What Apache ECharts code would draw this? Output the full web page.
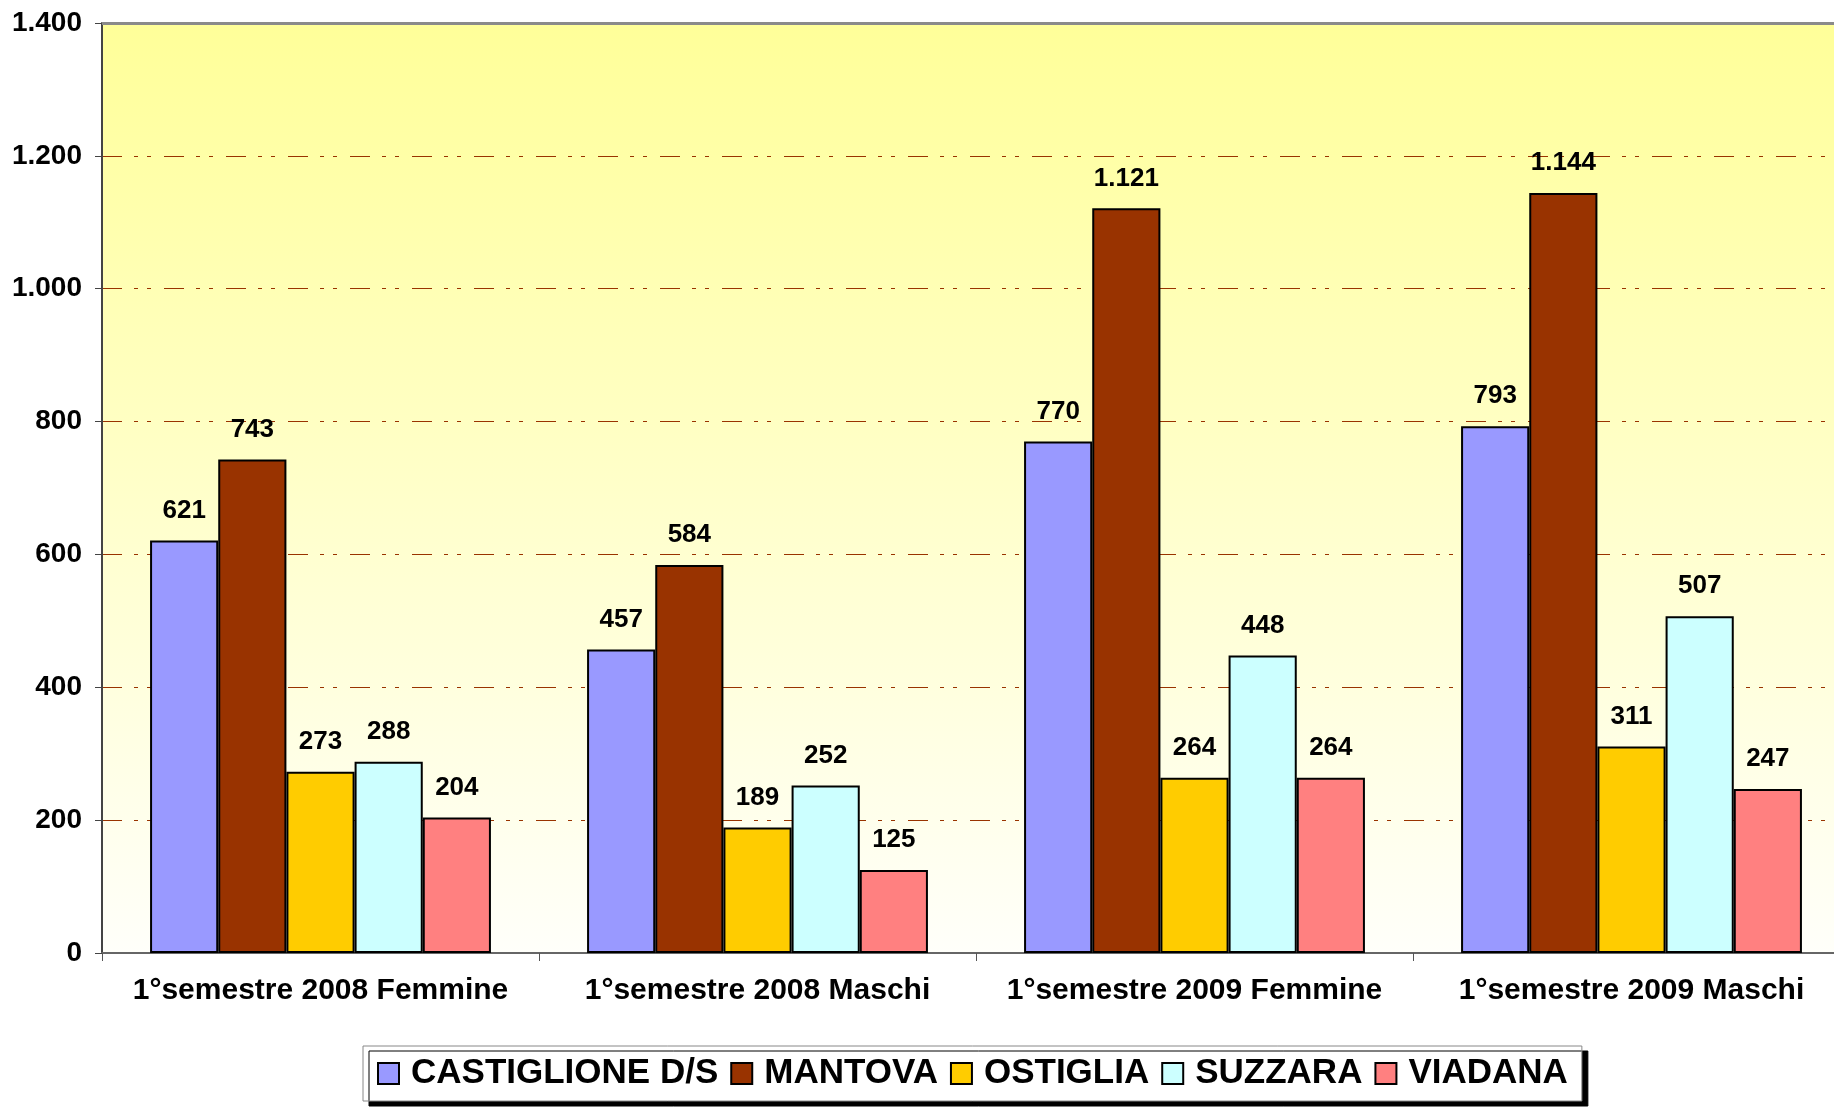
<!DOCTYPE html>
<html>
<head>
<meta charset="utf-8">
<title>Semestri</title>
<script src="https://cdn.jsdelivr.net/npm/echarts@6/dist/echarts.min.js"></script>
<style>
  html, body { margin: 0; padding: 0; background: #fff; }
  #chart { width: 1834px; height: 1107px; }
</style>
</head>
<body>
<div id="chart"></div>
<script>
var categories = ['1°semestre 2008 Femmine', '1°semestre 2008 Maschi', '1°semestre 2009 Femmine', '1°semestre 2009 Maschi'];
var seriesNames = ['CASTIGLIONE D/S', 'MANTOVA', 'OSTIGLIA', 'SUZZARA', 'VIADANA'];
var castiglione = [621, 457, 770, 793];
var mantova = [743, 584, 1121, 1144];
var ostiglia = [273, 189, 264, 311];
var suzzara = [288, 252, 448, 507];
var viadana = [204, 125, 264, 247];
var yTicks = { min: 0, max: 1400, interval: 200 };

var colors = ['#9999FF', '#993300', '#FFCC00', '#CCFFFF', '#FF8080'];
var allValues = [castiglione, mantova, ostiglia, suzzara, viadana];
var font = 'Liberation Sans, Arial, sans-serif';

// italian thousands separator
function fmt(v) {
    return String(v).replace(/\B(?=(\d{3})+(?!\d))/g, '.');
}

var chart = echarts.init(document.getElementById('chart'));

var series = [];
for (var i = 0; i < seriesNames.length; i++) {
    var s = {
        name: seriesNames[i],
        type: 'bar',
        data: allValues[i],
        barGap: '0%',
        barCategoryGap: '22%',
        itemStyle: { color: colors[i], borderColor: '#000', borderWidth: 2 },
        label: {
            show: true,
            position: 'top',
            distance: 17,
            color: '#000',
            fontFamily: font,
            fontWeight: 'bold',
            fontSize: 26,
            formatter: function (p) { return fmt(p.value); }
        }
    };
    if (i === 0) {
        // top border of the plot area
        s.markLine = {
            silent: true,
            symbol: 'none',
            label: { show: false },
            lineStyle: { color: '#8a8a8a', type: 'solid', width: 3 },
            data: [{ yAxis: yTicks.max }]
        };
    }
    series.push(s);
}

chart.setOption({
    animation: false,
    grid: {
        left: 102,
        right: -16,
        top: 23,
        bottom: 154,
        outerBoundsMode: 'none',
        show: true,
        borderWidth: 0,
        backgroundColor: new echarts.graphic.LinearGradient(0, 0, 0, 1, [
            { offset: 0, color: '#FFFF99' },
            { offset: 1, color: '#FFFFFA' }
        ])
    },
    legend: {
        data: seriesNames,
        left: 363,
        top: 1046,
        itemWidth: 21,
        itemHeight: 21,
        itemGap: 12,
        padding: [10, 14, 10, 14],
        backgroundColor: '#fff',
        borderColor: '#888',
        borderWidth: 1,
        shadowColor: '#000',
        shadowBlur: 0,
        shadowOffsetX: 6,
        shadowOffsetY: 5,
        icon: 'rect',
        itemStyle: { borderColor: '#000', borderWidth: 2 },
        textStyle: {
            fontFamily: font,
            fontWeight: 'bold',
            fontSize: 35,
            color: '#000',
            padding: [0, 0, 0, 7]
        }
    },
    xAxis: {
        type: 'category',
        data: categories,
        axisLine: { lineStyle: { color: '#666', width: 2 } },
        axisTick: { show: true, interval: 0, length: 8, lineStyle: { color: '#555', width: 1 } },
        axisLabel: {
            interval: 0,
            color: '#000',
            fontFamily: font,
            fontWeight: 'bold',
            fontSize: 30,
            margin: 23
        }
    },
    yAxis: {
        type: 'value',
        min: yTicks.min,
        max: yTicks.max,
        interval: yTicks.interval,
        axisLine: { show: true, lineStyle: { color: '#444', width: 2 } },
        axisTick: { show: true, length: 7, lineStyle: { color: '#444', width: 1 } },
        axisLabel: {
            color: '#000',
            fontFamily: font,
            fontWeight: 'bold',
            fontSize: 28,
            margin: 20,
            formatter: function (v) { return fmt(v); }
        },
        splitLine: {
            show: true,
            lineStyle: { color: '#993300', width: 1, type: [20, 12, 4, 9, 4, 13] }
        }
    },
    series: series
});
</script>
</body>
</html>
